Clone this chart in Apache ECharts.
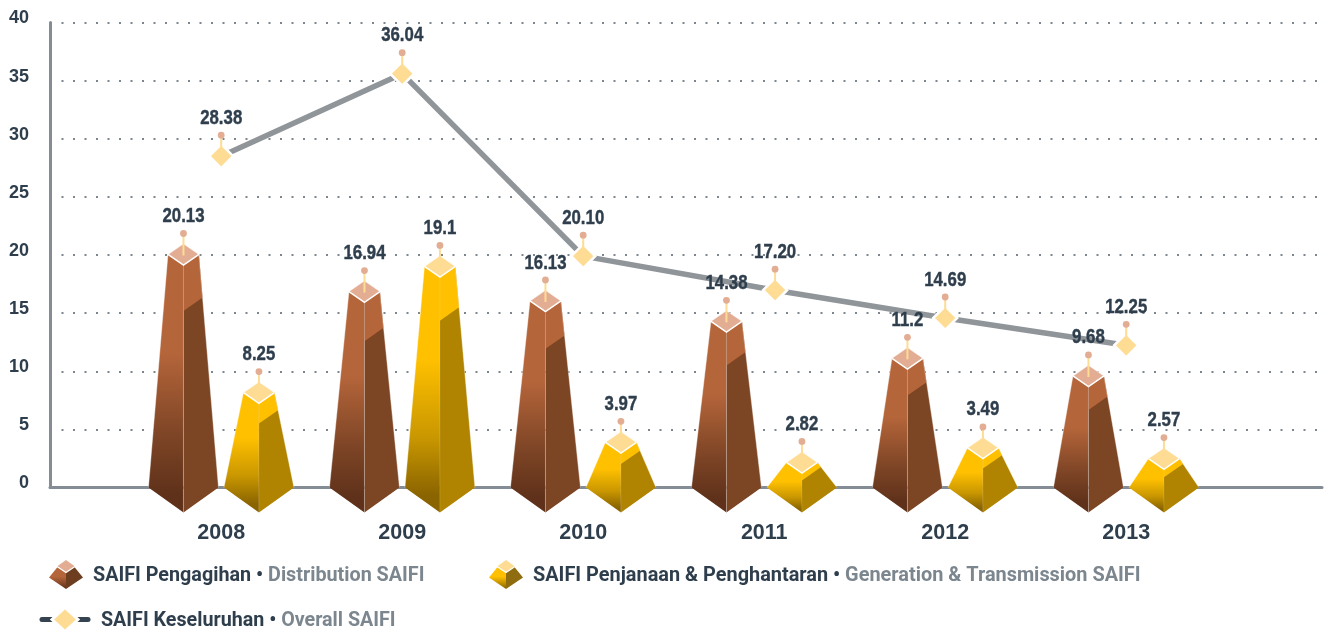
<!DOCTYPE html>
<html>
<head>
<meta charset="utf-8">
<style>html,body{margin:0;padding:0;background:#fff}#c{width:1325px;height:632px}</style>
<script src="https://cdn.jsdelivr.net/npm/echarts@6/dist/echarts.min.js"></script>
</head>
<body>
<div id="c"></div>
<script>
const years = ['2008','2009','2010','2011','2012','2013'];
const distribution = [20.13,16.94,16.13,14.38,11.2,9.68];
const distributionLabels = ['20.13','16.94','16.13','14.38','11.2','9.68'];
const generation = [8.25,19.1,3.97,2.24,3.49,2.57];
const generationLabels = ['8.25','19.1','3.97','2.82','3.49','2.57'];
const overall = [28.5,35.6,19.9,16.97,14.58,12.23];
const overallLabels = ['28.38','36.04','20.10','17.20','14.69','12.25'];
const overallPositions = [0,1,2,3.06,4,5];
const yTicks = [0,5,10,15,20,25,30,35,40];
const names = {
  dist: 'SAIFI Pengagihan • Distribution SAIFI',
  gen: 'SAIFI Penjanaan & Penghantaran • Generation & Transmission SAIFI',
  all: 'SAIFI Keseluruhan • Overall SAIFI'
};

const INK = '#2f3e4c', MUTED = '#7c868f', GREY = '#848d95';
const SANS = '"Liberation Sans",Arial,sans-serif';
const palette = {
  brown: {hi:'#b5653a', lo:'#5f311a', mid:'#7e4526', side:'#7c4524', top:'#e2ad93', seam:'rgba(255,255,255,0.25)'},
  gold:  {hi:'#ffc000', lo:'#8a6400', mid:'#c89600', side:'#b08400', top:'#fedc94', seam:'rgba(255,255,255,0.12)'}
};
const DOT = '#e2ad93', PIN = '#fedc94';
const grad = (p) => ({type:'linear',x:0,y:0,x2:0,y2:1,colorStops:[
  {offset:0,color:p.hi},{offset:0.38,color:p.hi},{offset:0.7,color:p.mid},{offset:0.93,color:p.lo},{offset:1,color:p.lo}]});

function pinShapes(x, y, label) {
  return [
    {type:'line',shape:{x1:x,y1:y-21,x2:x,y2:y+1},style:{stroke:PIN,lineWidth:2}},
    {type:'circle',shape:{cx:x,cy:y-21,r:3.4},style:{fill:DOT}},
    {type:'text',x:x,y:y-38,scaleX:0.84,style:{text:label,align:'center',verticalAlign:'middle',
      font:'bold 20px '+SANS,fill:INK,stroke:INK,lineWidth:0.4}}
  ];
}

function pyramid(values, labels, dir, p) {
  return function(params, api) {
    const i = api.value(0), v = values[i];
    const band = api.size([1,0])[0];
    const c0 = api.coord([i,0]);
    const cx = c0[0] + dir * band * 0.2085;
    const base = c0[1], tip = base + 25;
    const top = api.coord([i,v])[1] + 1;
    const bw = 35, tw = 15.5, th = 10.7, t = 0.185;
    const front = top + th;
    const lerp = (a,b) => a + (b-a)*t;
    return {type:'group',children:[
      {type:'polygon',shape:{points:[[cx-tw,top],[cx,front],[cx,tip],[cx-bw,base]]},style:{fill:grad(p)}},
      {type:'polygon',shape:{points:[[cx,front],[cx+tw,top],[cx+bw,base],[cx,tip]]},style:{fill:p.side}},
      {type:'polygon',shape:{points:[[cx,front],[cx+tw,top],
        [lerp(cx+tw,cx+bw),lerp(top,base)],[cx,lerp(front,tip)]]},style:{fill:p.hi}},
      {type:'line',shape:{x1:cx,y1:front,x2:cx,y2:tip},style:{stroke:p.seam,lineWidth:1}},
      {type:'line',shape:{x1:cx-tw,y1:top,x2:cx-bw,y2:base},style:{stroke:'rgba(255,255,255,0.55)',lineWidth:0.7}},
      {type:'line',shape:{x1:cx+tw,y1:top,x2:cx+bw,y2:base},style:{stroke:'rgba(255,255,255,0.55)',lineWidth:0.7}},
      {type:'polygon',shape:{points:[[cx,top-th],[cx+tw,top],[cx,front],[cx-tw,top]]},style:{fill:p.top}},
      {type:'polyline',shape:{points:[[cx-tw,top],[cx,front],[cx+tw,top]]},style:{stroke:'#fff',lineWidth:1.5,fill:null}},
      {type:'polyline',shape:{points:[[cx-tw,top],[cx,top-th],[cx+tw,top]]},style:{stroke:'rgba(255,255,255,0.7)',lineWidth:0.8,fill:null}},
      ...pinShapes(cx, top, labels[i])
    ]};
  };
}

function legendIcon(cx, cy, p) {
  const w=17, h=14.5;
  return {type:'group',silent:true,children:[
    {type:'polygon',shape:{points:[[cx-w,cy+3],[cx-8,cy-8],[cx,cy-2],[cx,cy+h]]},style:{fill:{type:'linear',x:0,y:0,x2:0,y2:1,
      colorStops:[{offset:0,color:p.hi},{offset:0.45,color:p.hi},{offset:1,color:p.lo}]}}},
    {type:'polygon',shape:{points:[[cx,cy-2],[cx+8,cy-8],[cx+w,cy+3],[cx,cy+h]]},style:{fill:p===palette.brown?'#6d3d20':'#8f6c10'}},
    {type:'polygon',shape:{points:[[cx,cy-14.5],[cx+9,cy-8],[cx,cy-2],[cx-9,cy-8]]},style:{fill:p.top}},
    {type:'polyline',shape:{points:[[cx-9,cy-8],[cx,cy-2],[cx+9,cy-8]]},style:{stroke:'#fff',lineWidth:1.2,fill:null}}
  ]};
}

const legendBase = (name,left,top,w,size) => ({
  show:true,data:[name],left,top,orient:'horizontal',padding:0,
  icon:'rect',itemWidth:w,itemHeight:10,selectedMode:false,
  itemStyle:{opacity:0},lineStyle:{opacity:0},
  formatter:(n)=>{const s=n.split(' • ');return '{a|'+s[0]+' • }{b|'+s[1]+'}';},
  textStyle:{rich:{
    a:{color:INK,fontFamily:'Roboto',fontWeight:'bold',fontSize:size},
    b:{color:MUTED,fontFamily:'Roboto',fontWeight:'bold',fontSize:size}}}
});

const chart = echarts.init(document.getElementById('c'),null,{renderer:'canvas'});
chart.setOption({
  animation:false,
  backgroundColor:'#fff',
  legend:[legendBase(names.dist,46,566,42,19.75),legendBase(names.gen,487,566,41,19.9),legendBase(names.all,57,611,38,19.7)],
  graphic:[
    legendIcon(66,574.5,palette.brown),
    legendIcon(506,574.5,palette.gold),
    {type:'group',silent:true,children:[
      {type:'line',shape:{x1:42,y1:619.5,x2:88,y2:619.5},style:{stroke:'#35424f',lineWidth:5,lineCap:'round'}},
      {type:'polygon',shape:{points:[[65,607.5],[78,619.5],[65,631.5],[52,619.5]]},style:{fill:'#fedc94',stroke:'#fff',lineWidth:3}}
    ]}
  ],
  grid:[
    {left:50,top:22.5,width:1272,height:465},
    {left:130.7,top:22.5,width:1086,height:465}
  ],
  xAxis:[
    {type:'value',gridIndex:0,min:0,max:1,axisLabel:{show:false},axisTick:{show:false},splitLine:{show:false},
      axisLine:{show:true,lineStyle:{color:GREY,width:3}}},
    {type:'category',gridIndex:1,data:years,axisLine:{show:false},axisTick:{show:false},
      axisLabel:{margin:35,fontFamily:SANS,fontWeight:'bold',fontSize:21.5,color:INK}},
    {type:'value',gridIndex:1,min:-0.5,max:5.5,show:false}
  ],
  yAxis:[
    {type:'value',gridIndex:0,min:0,max:40,interval:5,
      axisLine:{show:true,lineStyle:{color:GREY,width:3}},axisTick:{show:false},
      axisLabel:{margin:21,verticalAlign:'bottom',lineHeight:8,fontFamily:SANS,
        fontWeight:'bold',fontSize:18,color:INK,formatter:(v)=>yTicks.includes(v)?String(v):''},
      splitLine:{show:true,lineStyle:{color:'#7d868e',width:2,type:[2,9.5]}}},
    {type:'value',gridIndex:1,min:0,max:40,interval:5,show:false,splitLine:{show:false}}
  ],
  series:[
    {name:names.dist,type:'custom',xAxisIndex:1,yAxisIndex:1,z:6,clip:false,
      renderItem:pyramid(distribution,distributionLabels,-1,palette.brown),
      encode:{x:0,y:1},data:distribution.map((v,i)=>[i,v])},
    {name:names.gen,type:'custom',xAxisIndex:1,yAxisIndex:1,z:6,clip:false,
      renderItem:pyramid(generation,generationLabels,1,palette.gold),
      encode:{x:0,y:1},data:generation.map((v,i)=>[i,v])},
    {name:names.all,type:'line',xAxisIndex:2,yAxisIndex:1,z:4,
      data:overall.map((v,i)=>[overallPositions[i],v]),
      symbol:'diamond',symbolSize:24,
      lineStyle:{color:'#90959a',width:5.5},
      itemStyle:{color:'#fedc94',borderColor:'#fff',borderWidth:2.5}},
    {name:'overall-pins',type:'custom',xAxisIndex:2,yAxisIndex:1,z:5,clip:false,
      renderItem:(params,api)=>{
        const c = api.coord([api.value(0),api.value(1)]);
        return {type:'group',children:pinShapes(c[0],c[1],overallLabels[params.dataIndex])};
      },
      encode:{x:0,y:1},data:overall.map((v,i)=>[overallPositions[i],v])}
  ]
});
</script>
</body>
</html>
